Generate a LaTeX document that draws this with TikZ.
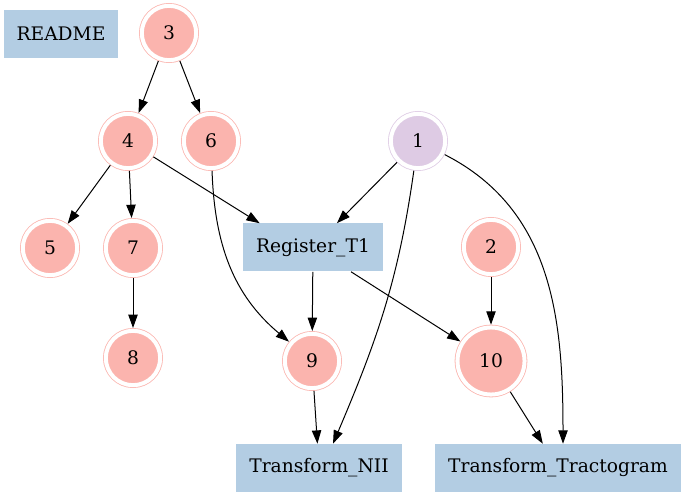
\documentclass[tikz,border=0pt]{standalone}
\usepackage{fontspec}
\setmainfont{DejaVu Serif}
\usepackage{tikz}
\usetikzlibrary{arrows.meta}
\definecolor{saumon}{HTML}{FBB4AE}
\definecolor{lavande}{HTML}{DECBE4}
\definecolor{bleu}{HTML}{B3CDE3}

\begin{document}
\begin{tikzpicture}[x=0.75pt,y=-0.75pt,>={Triangle[length=10pt,width=7pt]},
    font=\fontsize{14}{17}\selectfont,
    rond/.style={circle,fill=saumon,draw=saumon,double=white,double distance=3pt,
      line width=0.6pt,minimum size=40.8pt,inner sep=0pt,outer sep=2.1pt},
    boite/.style={rectangle,fill=bleu,minimum height=36pt,inner xsep=9.75pt,inner ysep=0pt},
    fleche/.style={->,line width=0.75pt}]

    % Cadre de l'image
    \useasboundingbox (0,0) rectangle (684,498);

    % Les boites
    \node[boite] (readme) at (61,34) {README};
    \node[boite] (reg) at (313,247.5) {Register\_T1};
    \node[boite] (nii) at (319,468) {Transform\_NII};
    \node[boite] (tract) at (558,468) {Transform\_Tractogram};

    % Les cercles doubles
    \node[rond] (n3) at (169,33) {3};
    \node[rond] (n4) at (128,141) {4};
    \node[rond] (n6) at (211,141) {6};
    \node[rond,fill=lavande,draw=lavande] (n1) at (418,141) {1};
    \node[rond] (n5) at (50,248) {5};
    \node[rond] (n7) at (133,248) {7};
    \node[rond] (n2) at (491,247) {2};
    \node[rond] (n8) at (133,358) {8};
    \node[rond] (n9) at (312,361) {9};
    \node[rond,minimum size=50.3pt] (n10) at (491,361) {10};

    % Les fleches droites
    \draw[fleche] (n3) -- (n4);
    \draw[fleche] (n3) -- (n6);
    \draw[fleche] (n4) -- (n5);
    \draw[fleche] (n4) -- (n7);
    \draw[fleche] (n7) -- (n8);
    \draw[fleche] (n4) -- ([xshift=-40pt]reg.north);
    \draw[fleche] (n1) -- (reg);
    \draw[fleche] (reg) -- (n9);
    \draw[fleche] (reg) -- (n10);
    \draw[fleche] (n2) -- (n10);
    \draw[fleche] (n9) -- (nii);
    \draw[fleche] (n10) -- (tract);

    % Les fleches courbes
    \draw[fleche] (n6) to[out=-88,in=140] (n9);
    \draw[fleche] (n1) to[out=-98,in=67] ([xshift=10.5pt]nii.north);
    \draw[fleche] (n1) to[out=-27,in=90] ([xshift=3.75pt]tract.north);
\end{tikzpicture}
\end{document}
